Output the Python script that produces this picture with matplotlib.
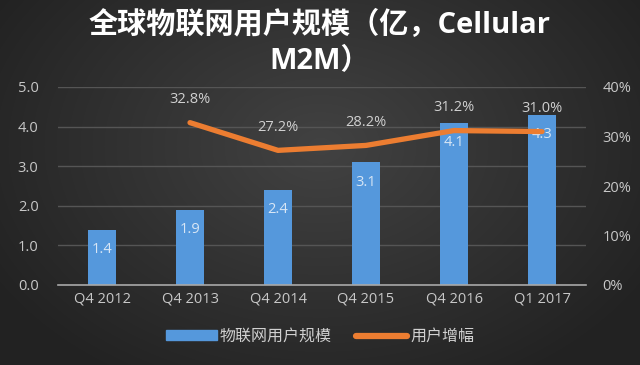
import matplotlib
matplotlib.use("Agg")
import matplotlib.pyplot as plt
import numpy as np
from matplotlib.lines import Line2D
from matplotlib.patches import Patch

plt.rcParams['font.family'] = ['Open Sans', 'Noto Sans CJK SC', 'DejaVu Sans']

categories = ["Q4 2012", "Q4 2013", "Q4 2014", "Q4 2015", "Q4 2016", "Q1 2017"]
users = [1.4, 1.9, 2.4, 3.1, 4.1, 4.3]
growth = [np.nan, 32.8, 27.2, 28.2, 31.2, 31.0]
y_ticks = [0, 1, 2, 3, 4, 5]
y2_ticks = [0, 10, 20, 30, 40]

W, H = 640, 365
fig = plt.figure(figsize=(W / 100, H / 100), dpi=100)

# background radial gradient
bg = fig.add_axes([0, 0, 1, 1])
yy, xx = np.mgrid[0:H, 0:W]
r = np.sqrt(((xx - W * 0.5) / (W * 0.6)) ** 2 + ((yy - H * 0.4) / (H * 0.75)) ** 2)
r = np.clip(r, 0, 1)
c0 = np.array([0x42, 0x42, 0x42]) / 255
c1 = np.array([0x22, 0x22, 0x22]) / 255
img = c0[None, None, :] * (1 - r[..., None]) + c1[None, None, :] * r[..., None]
bg.imshow(img, aspect='auto', extent=[0, 1, 0, 1])
bg.axis('off')

blue = '#5598dc'
orange = '#ec7d31'

ax = fig.add_axes([58 / W, 1 - 285 / H, (586 - 58) / W, (285 - 87) / H])
ax.patch.set_alpha(0)
x = np.arange(len(categories))
ax.bar(x, users, width=0.32, color=blue, zorder=2)
ax.set_xlim(-0.5, len(categories) - 0.5)
ax.set_ylim(0, 5)
ax.set_yticks(y_ticks)
ax.set_yticklabels([f"{v:.1f}" for v in y_ticks])
ax.set_xticks(x)
ax.set_xticklabels(categories)
ax.tick_params(axis='y', colors='#c8c8c8', labelsize=10.5, length=0, pad=14)
ax.tick_params(axis='x', colors='#c8c8c8', labelsize=10.5, length=0, pad=5)
ax.grid(axis='y', color='#555555', linewidth=1, zorder=0)
for s in ['top', 'right', 'left']:
    ax.spines[s].set_visible(False)
ax.spines['bottom'].set_color('#a8a8a8')
ax.spines['bottom'].set_linewidth(1.2)
for xi, v in zip(x, users):
    ax.text(xi, v - 0.5, f"{v:.1f}", ha='center', va='center', color='#d8e6f5', fontsize=10.5, zorder=4)

ax2 = ax.twinx()
ax2.set_ylim(0, 40)
ax2.set_yticks(y2_ticks)
ax2.set_yticklabels([f"{v}%" for v in y2_ticks])
ax2.tick_params(colors='#c8c8c8', labelsize=10.5, length=0, pad=12)
for s in ax2.spines.values():
    s.set_visible(False)
ax2.plot(x, growth, color=orange, linewidth=3.8, solid_capstyle='round', zorder=3)
for xi, g in zip(x, growth):
    if not np.isnan(g):
        ax2.text(xi, g + 4.6, f"{g:.1f}%", ha='center', va='center', color='#d0d0d0', fontsize=10.5)

fig.text(0.5, 1 - 25 / H, "全球物联网用户规模（亿，Cellular", ha='center', va='center',
         color='white', fontsize=21, fontweight='bold')
fig.text(0.5, 1 - 62 / H, "M2M）", ha='center', va='center',
         color='white', fontsize=21, fontweight='bold')

handles = [Patch(color=blue), Line2D([0], [0], color=orange, linewidth=4.5, solid_capstyle='round')]
fig.legend(handles, ["物联网用户规模", "用户增幅"], loc='center', bbox_to_anchor=(0.5, 1 - 337 / H),
           ncol=2, frameon=False, fontsize=11.5, labelcolor='#d0d0d0', handlelength=3.2,
           handleheight=0.6, columnspacing=1.5, handletextpad=0.2)

fig.savefig("out.png", dpi=100)
